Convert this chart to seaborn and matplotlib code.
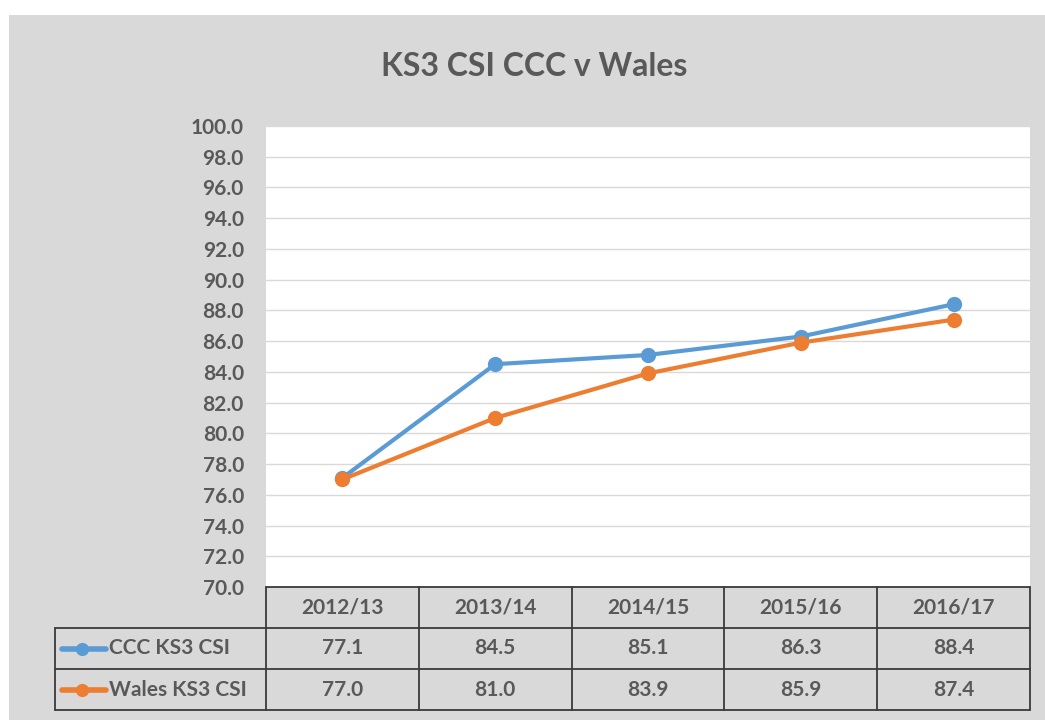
import seaborn as sns
import matplotlib.pyplot as plt
import pandas as pd
from matplotlib.patches import Rectangle

seasons = ['2012/13', '2013/14', '2014/15', '2015/16', '2016/17']
ccc = [77.1, 84.5, 85.1, 86.3, 88.4]
wales = [77.0, 81.0, 83.9, 85.9, 87.4]
series_names = ['CCC KS3 CSI', 'Wales KS3 CSI']
colors = ['#5B9BD5', '#ED7D31']
yticks = [70 + 2 * i for i in range(16)]

txt = '#595959'
font = 'Lato'
fw = 'bold'

sns.set_style('white')
plt.rcParams['font.family'] = [font, 'DejaVu Sans']
plt.rcParams['font.weight'] = fw

W, H = 1045, 720
fig = plt.figure(figsize=(W / 100, H / 100), dpi=100, facecolor='white')
bg = Rectangle((9 / W, 0), 1 - 9 / W, 1 - 15 / H, transform=fig.transFigure,
               facecolor='#d9d9d9', edgecolor='none', zorder=-10)
fig.patches.append(bg)

# plot area in pixels
L, R, T, B = 266, 1030, 126, 587
ax = fig.add_axes([L / W, 1 - B / H, (R - L) / W, (B - T) / H])
ax.set_facecolor('white')

df = pd.DataFrame({'season': seasons * 2, 'value': ccc + wales,
                   'series': [series_names[0]] * 5 + [series_names[1]] * 5})
sns.lineplot(data=df, x='season', y='value', hue='series', palette=colors,
             marker='o', markersize=11, markeredgewidth=0, linewidth=3,
             legend=False, ax=ax, zorder=3)

ax.set_xlim(-0.5, len(seasons) - 0.5)
ax.set_ylim(70, 100)
ax.set_yticks(yticks)
ax.set_yticklabels([f'{v:.1f}' for v in yticks], color=txt, fontsize=15, fontweight=fw)
ax.tick_params(axis='y', length=0, pad=16)
ax.set_xticks([])
ax.set_xlabel('')
ax.set_ylabel('')
ax.grid(axis='y', color='#d9d9d9', linewidth=1)
ax.set_axisbelow(True)
for s in ax.spines.values():
    s.set_visible(False)

fig.text(534 / W, 1 - 66 / H, 'KS3 CSI CCC v Wales', ha='center', va='center',
         fontsize=23, color=txt, fontweight=fw)

# data table under the chart
TL, TB = 55, 710
col_w = (R - L) / len(seasons)
label_w = (L - TL) / col_w
tx = fig.add_axes([TL / W, 1 - TB / H, (R - TL) / W, (TB - B) / H])
tx.set_xlim(-0.5 - label_w, len(seasons) - 0.5)
tx.set_ylim(3, 0)
tx.axis('off')
lc = '#3a3a3a'
lw = 1.3
x0, x1 = -0.5 - label_w, len(seasons) - 0.5
tx.plot([-0.5, x1], [0, 0], color=lc, lw=lw, clip_on=False)
for yy in [1, 2, 3]:
    tx.plot([x0, x1], [yy, yy], color=lc, lw=lw, clip_on=False)
tx.plot([x0, x0], [1, 3], color=lc, lw=lw, clip_on=False)
for i in range(len(seasons) + 1):
    tx.plot([i - 0.5, i - 0.5], [0, 3], color=lc, lw=lw, clip_on=False)

for i, s in enumerate(seasons):
    tx.text(i, 0.5, s, ha='center', va='center', fontsize=15, color=txt, fontweight=fw)
for r, (vals, name, c) in enumerate(zip([ccc, wales], series_names, colors)):
    yy = r + 1.5
    for i, v in enumerate(vals):
        tx.text(i, yy, f'{v:.1f}', ha='center', va='center', fontsize=15, color=txt,
                fontweight=fw)
    px = lambda p: -0.5 - (L - p) / col_w
    tx.plot([px(62), px(106)], [yy, yy], color=c, lw=4, solid_capstyle='round')
    tx.plot([px(82)], [yy], marker='o', color=c, markersize=9.5, markeredgewidth=0)
    tx.text(px(109), yy, name, ha='left', va='center', fontsize=15, color=txt,
            fontweight=fw)

fig.savefig('out.png', dpi=100, facecolor='white')
